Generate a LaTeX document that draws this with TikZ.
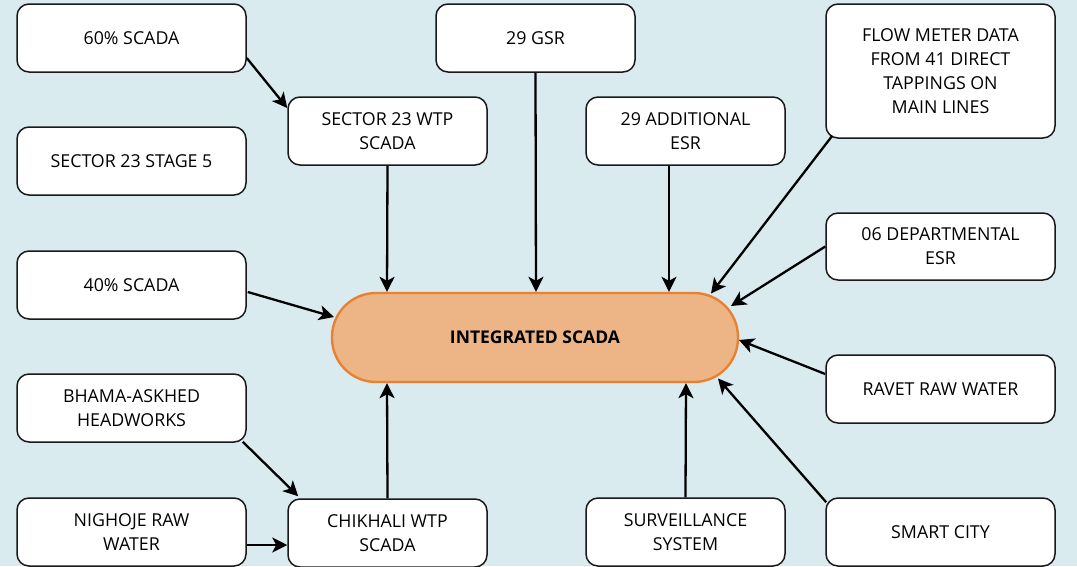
\documentclass[tikz,border=0pt]{standalone}
\usepackage{fontspec}
\setmainfont{Open Sans}
\usetikzlibrary{calc,arrows.meta}
\definecolor{bgblue}{RGB}{218,235,240}
\definecolor{pillfill}{RGB}{237,180,134}
\definecolor{pilldraw}{RGB}{232,130,50}
\definecolor{boxline}{RGB}{25,25,25}
\tikzset{
  box/.style={draw=boxline, line width=1.5pt, fill=white, rounded corners=12pt,
    align=center, inner sep=0pt, font=\fontsize{17.8}{24}\selectfont},
  wbox/.style={box, minimum width=229pt, minimum height=68pt},
  mbox/.style={box, minimum width=199pt, minimum height=68pt},
  pill/.style={draw=pilldraw, line width=2.4pt, fill=pillfill, rounded corners=44pt,
    minimum width=406pt, minimum height=89pt, inner sep=0pt,
    font=\fontsize{17.5}{24}\selectfont\bfseries},
  arr/.style={line width=2.3pt, -{Stealth[length=15pt,width=15pt,inset=4pt]}}
}
\begin{document}
\begin{tikzpicture}[x=1pt,y=-1pt]
\fill[bgblue] (0,0) rectangle (1077,566);
\useasboundingbox (0,0) rectangle (1077,566);

\node[pill] (integ) at (535,337.5) {INTEGRATED SCADA};

\node[wbox] (s60) at (131.5,38) {60\% SCADA};
\node[wbox] (stage5) at (131.5,161) {SECTOR 23 STAGE 5};
\node[wbox] (s40) at (131.5,285) {40\% SCADA};
\node[wbox] (bhama) at (131.5,408) {BHAMA-ASKHED\\HEADWORKS};
\node[wbox] (nig) at (131.5,532) {NIGHOJE RAW\\WATER};

\node[mbox] (s23wtp) at (387.5,131) {SECTOR 23 WTP\\SCADA};
\node[mbox] (chik) at (387.5,533) {CHIKHALI WTP\\SCADA};
\node[mbox] (gsr) at (535.5,38) {29 GSR};
\node[mbox] (addesr) at (685.5,131) {29 ADDITIONAL\\ESR};
\node[mbox] (surv) at (685.5,532) {SURVEILLANCE\\SYSTEM};

\node[box, minimum width=229pt, minimum height=134pt] (flow) at (940.5,71) {FLOW METER DATA\\FROM 41 DIRECT\\TAPPINGS ON\\MAIN LINES};
\node[wbox, minimum height=67pt] (dept) at (940.5,246.5) {06 DEPARTMENTAL\\ESR};
\node[wbox] (ravet) at (940.5,389) {RAVET RAW WATER};
\node[wbox] (smart) at (940.5,532) {SMART CITY};

\draw[arr] ($(s60.east)+(0,20)$) -- ($(s23wtp.west)+(0,-23)$);
\draw[arr] (s23wtp.south) -- ($(integ.north)+(-148,0)$);
\draw[arr] (gsr.south) -- ($(integ.north)+(1,0)$);
\draw[arr] ($(addesr.south)+(-16.5,0)$) -- ($(integ.north)+(134,0)$);
\draw[arr] ($(flow.south west)+(7,-3)$) -- ($(integ.center)+(176,-44)$);
\draw[arr] (dept.west) -- ($(integ.center)+(196,-31.5)$);
\draw[arr] ($(ravet.west)+(0,-15)$) -- ($(integ.center)+(204,2.5)$);
\draw[arr] ($(smart.north west)+(1,5)$) -- ($(integ.center)+(183,41)$);
\draw[arr] (surv.north) -- ($(integ.south)+(151,0)$);
\draw[arr] (chik.north) -- ($(integ.south)+(-148,0)$);
\draw[arr] ($(s40.east)+(1,7)$) -- ($(integ.center)+(-201,-20.5)$);
\draw[arr] ($(bhama.south east)+(-4,-1)$) -- ($(chik.north west)+(11,-2)$);
\draw[arr] ($(nig.east)+(0,13)$) -- ($(chik.west)+(0,12)$);
\end{tikzpicture}
\end{document}
